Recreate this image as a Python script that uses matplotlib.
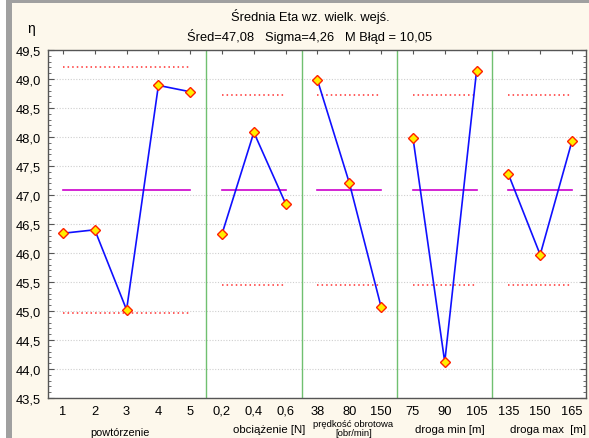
import numpy as np
import matplotlib
matplotlib.use("Agg")
from matplotlib import pyplot as plt
from matplotlib import patches
from matplotlib.ticker import MultipleLocator

plt.rcParams['font.family'] = ['Liberation Sans', 'DejaVu Sans']

# dane
factors = ['powtórzenie', 'obciążenie [N]', 'prędkość obrotowa\n[obr/min]',
           'droga min [m]', 'droga max  [m]']
levels = [['1', '2', '3', '4', '5'],
          ['0,2', '0,4', '0,6'],
          ['38', '80', '150'],
          ['75', '90', '105'],
          ['135', '150', '165']]
eta = [[46.34, 46.40, 45.02, 48.89, 48.78],
       [46.33, 48.08, 46.85],
       [48.98, 47.21, 45.07],
       [47.99, 44.12, 49.14],
       [47.36, 45.97, 47.93]]
upper = [49.20, 48.72, 48.72, 48.72, 48.72]
lower = [44.97, 45.44, 45.44, 45.44, 45.44]
mean_eta = 47.08
title = 'Średnia Eta wz. wielk. wejś.'
subtitle = 'Śred=47,08   Sigma=4,26   M Błąd = 10,05'

W, H = 589, 439
fig = plt.figure(figsize=(W / 100, H / 100), dpi=100)
fig.patch.set_facecolor('#fdf8ec')

# ramka okna (szara)
fig.add_artist(patches.Rectangle((0, 0), 6 / W, 1, transform=fig.transFigure,
                                 facecolor='white', edgecolor='none'))
fig.add_artist(patches.Rectangle((6 / W, 0), 6 / W, 1, transform=fig.transFigure,
                                 facecolor='#a0a0a0', edgecolor='none'))
fig.add_artist(patches.Rectangle((6 / W, 1 - 4 / H), 1, 4 / H, transform=fig.transFigure,
                                 facecolor='#a0a0a0', edgecolor='none'))

ax = fig.add_axes([48 / W, (H - 399) / H, (586 - 48) / W, (399 - 51) / H])
ax.set_facecolor('white')

pos = 0
xticks, xlabels, centers = [], [], []
for i, (lv, vals) in enumerate(zip(levels, eta)):
    x = np.arange(pos, pos + len(lv))
    ax.plot([x[0], x[-1]], [upper[i], upper[i]], color='#ff3030', ls=(0, (1, 2)), lw=1.1)
    ax.plot([x[0], x[-1]], [lower[i], lower[i]], color='#ff3030', ls=(0, (1, 2)), lw=1.1)
    ax.plot([x[0], x[-1]], [mean_eta, mean_eta], color='#cc00cc', lw=1.2)
    ax.plot(x, vals, color='#1010ff', lw=1.2, marker='D', ms=5.5,
            mfc='#ffee00', mec='#ff2000', mew=1.0, zorder=5)
    if i < len(levels) - 1:
        ax.axvline(x[-1] + 0.5, color='#70c070', lw=1.0)
    xticks += list(x)
    xlabels += lv
    centers.append(x.mean())
    pos += len(lv)

ax.set_xlim(-0.47, 16.44)
ax.set_ylim(43.5, 49.5)

yt = np.arange(43.5, 49.51, 0.5)
ax.set_yticks(yt)
ax.set_yticklabels([f'{v:.1f}'.replace('.', ',') for v in yt], fontsize=9.3)
ax.yaxis.set_minor_locator(MultipleLocator(0.1))
ax.tick_params(axis='y', which='both', direction='in', left=True, right=True,
               color='#555555', pad=5)
ax.tick_params(axis='y', which='major', length=4)
ax.tick_params(axis='y', which='minor', length=2)
ax.grid(axis='y', which='major', color='#cfcfcf', ls=(0, (1, 1.5)), lw=0.8)

ax.set_xticks(xticks)
ax.set_xticklabels(xlabels, fontsize=9.3)
ax.tick_params(axis='x', which='both', direction='in', bottom=False, top=True,
               length=3, color='#555555', pad=5)

for s in ax.spines.values():
    s.set_color('#555555')
    s.set_linewidth(1.0)

# podpisy czynników (przesunięte jak w oryginale)
shift = [-0.2, 0.47, 0.13, 0.16, 0.24]
for i, (c, name) in enumerate(zip(centers, factors)):
    xt = ax.get_xaxis_transform()
    if '\n' in name:
        ax.text(c + shift[i], -0.086, name, transform=xt, ha='center',
                va='center', fontsize=6.8, linespacing=1.05)
    elif i == 0:
        ax.text(c + shift[i], -0.097, name, transform=xt, ha='center',
                va='center', fontsize=7.8)
    else:
        ax.text(c + shift[i], -0.089, name, transform=xt, ha='center',
                va='center', fontsize=8.2)

fig.text(310 / W, 1 - 17 / H, title, ha='center', va='center', fontsize=9.3)
fig.text(310 / W, 1 - 36 / H, subtitle, ha='center', va='center', fontsize=9.3)
fig.text(31 / W, 1 - 29 / H, 'η', ha='center', va='center', fontsize=10)

fig.savefig('out.png', dpi=100, facecolor=fig.get_facecolor())
